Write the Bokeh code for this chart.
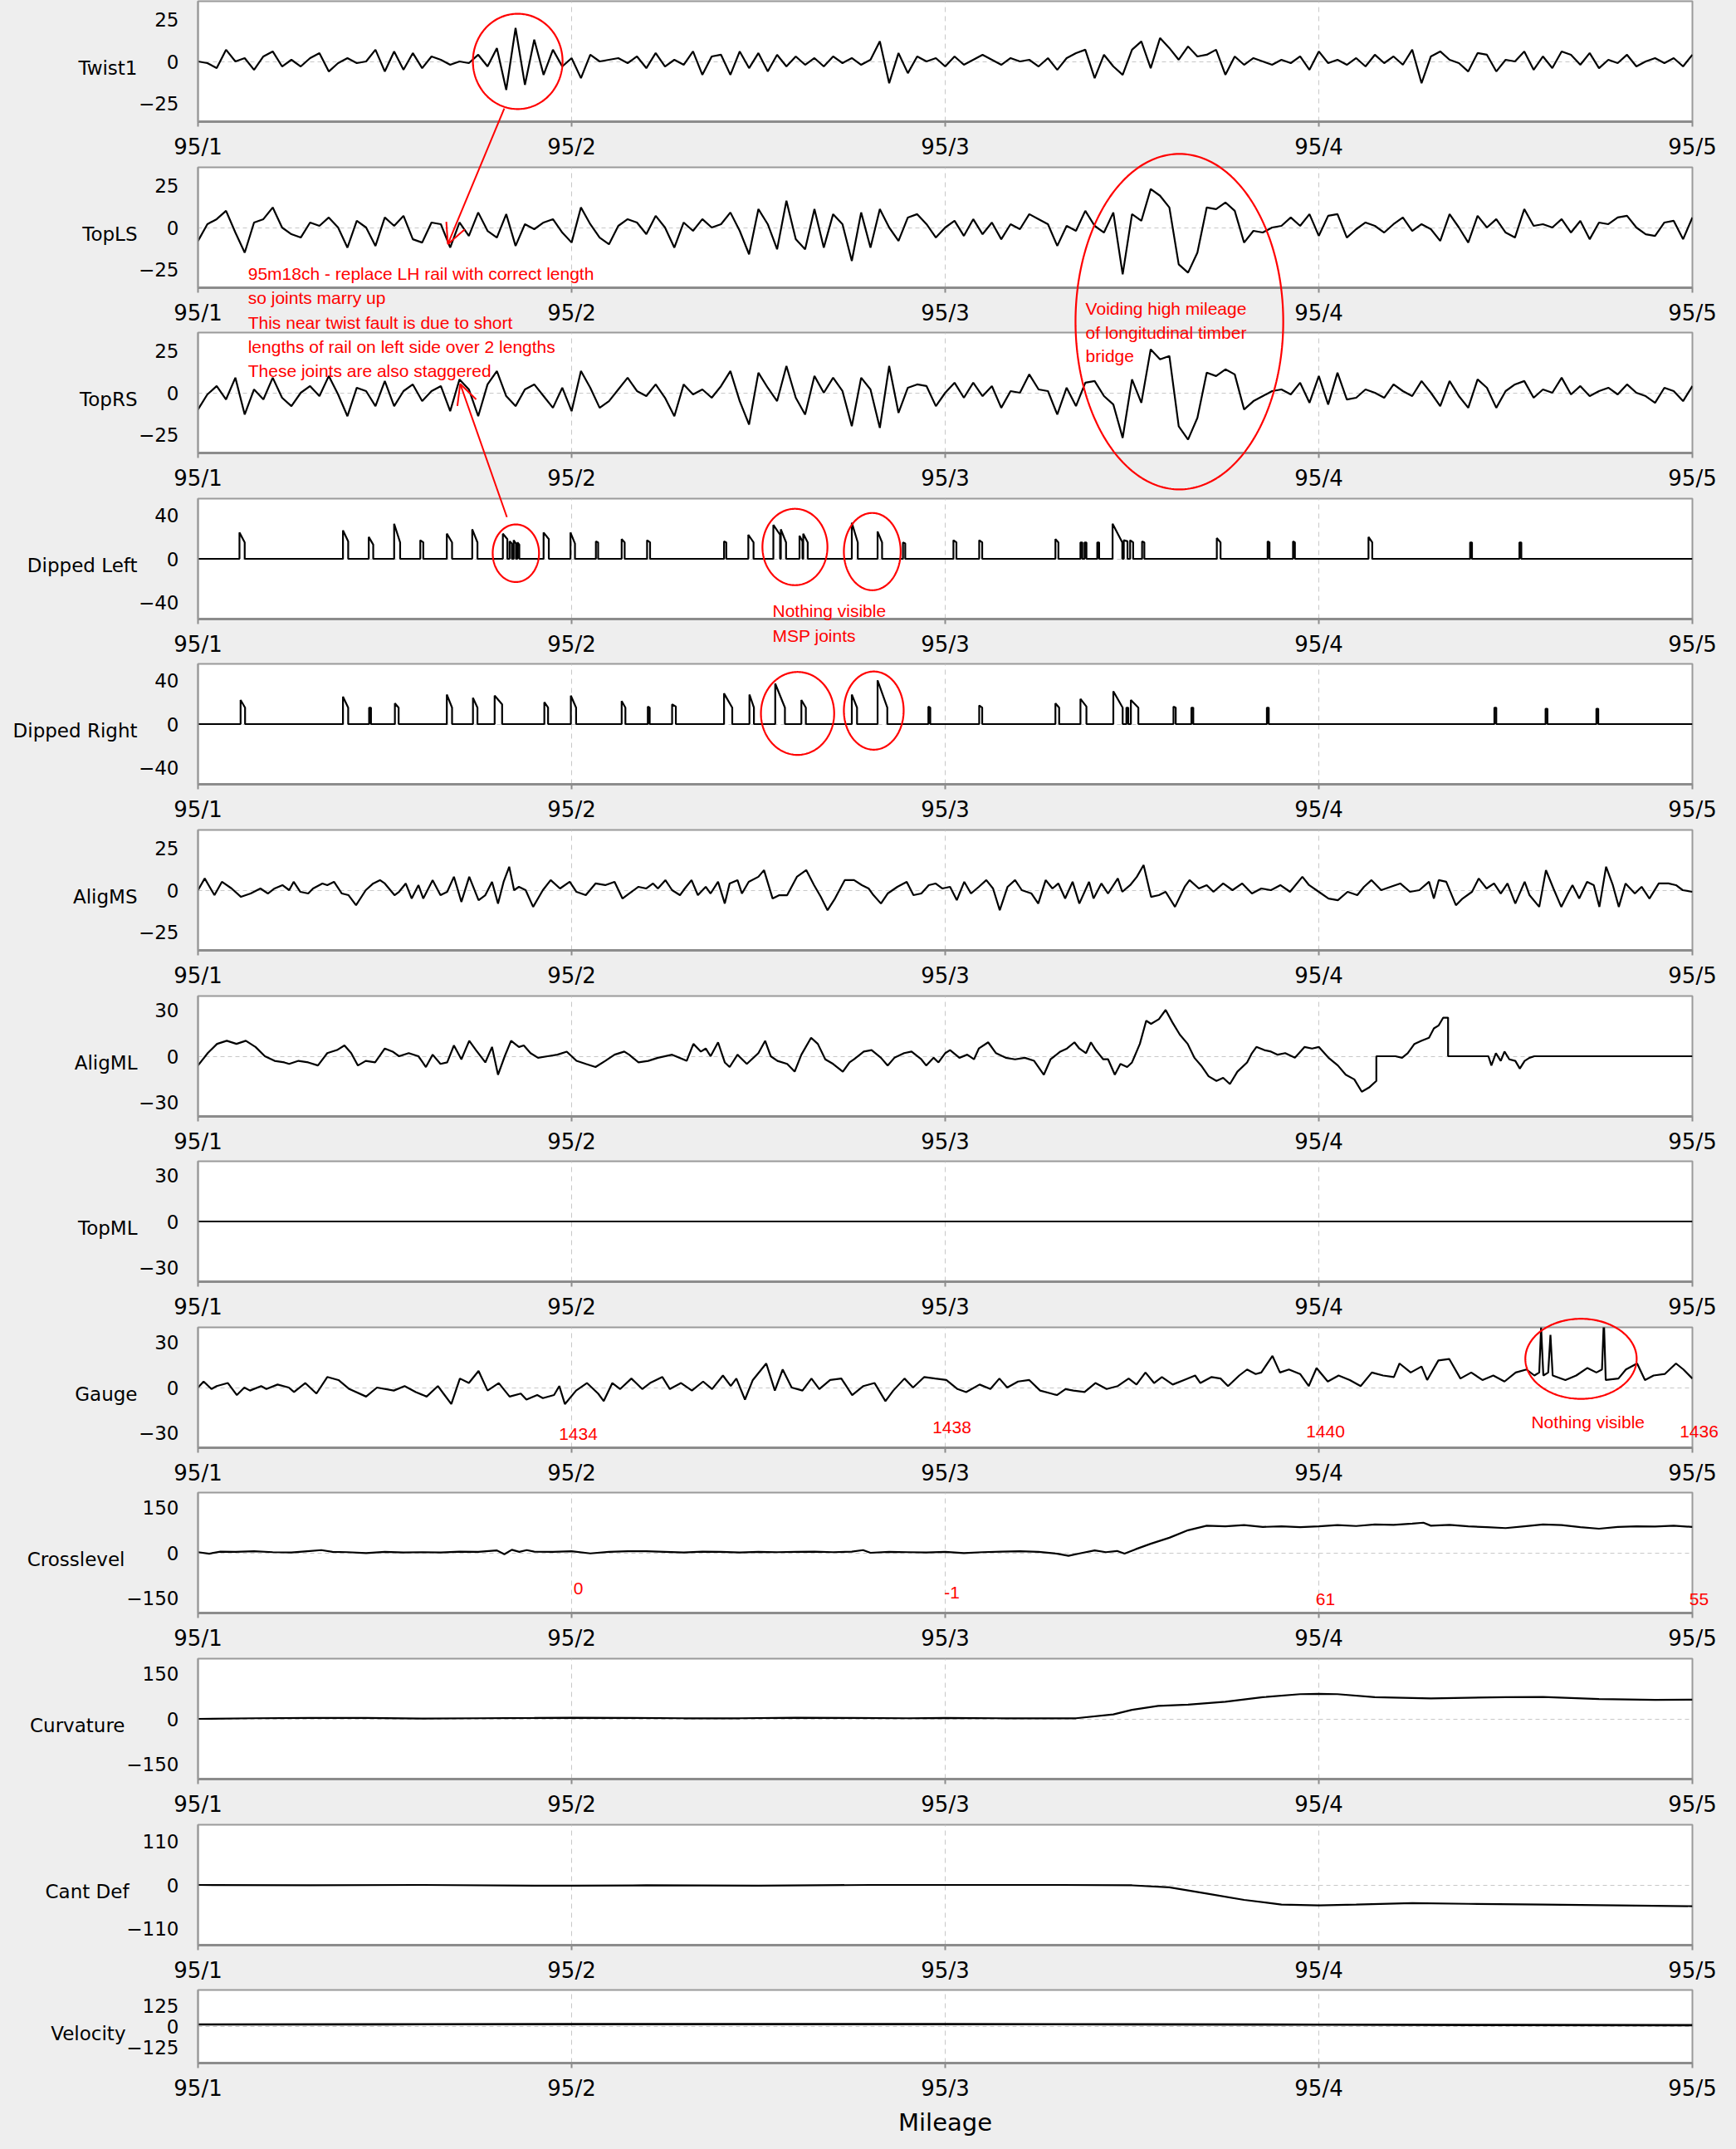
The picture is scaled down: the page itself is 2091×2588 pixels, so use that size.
import numpy as np
from bokeh.plotting import figure
from bokeh.layouts import column
from bokeh.models import Range1d, FixedTicker, Label, PolyAnnotation, Arrow, OpenHead
from bokeh.embed import file_html
from bokeh.resources import INLINE

# ------------------------------------------------------------------ data
mileage_ticks = [1, 2, 3, 4, 5]
mileage_labels = ["95/1", "95/2", "95/3", "95/4", "95/5"]

# evenly sampled traces: first sample at 95/1, one sample every 0.025 chain
grid_start, grid_step = 1.0, 0.025

twist1 = [0, -1, -4, 7, 0, 2, -5, 3, 6, -3, 1, -3, 2, 5, -6, -1, 2, -1, 0, 7,
          -6, 6, -5, 5, -4, 3, 1, -2, 0, -1, 4, -3, 8, -17, 20, -14, 13, -8, 7, -3,
          2, -10, 4, 0, 1, 2, -1, 3, -4, 5, -3, 1, -2, 6, -8, 3, 4, -8, 6, -4,
          5, -6, 4, -3, 3, -2, 2, -3, 3, -1, 2, -2, 1, 12, -13, 5, -7, 3, 0, 2,
          -3, 3, -2, 1, 4, 1, -2, 2, 0, 1, -3, 2, -5, 2, 5, 7, -10, 4, -3, -8,
          7, 12, -4, 14, 8, 1, 9, 3, 4, 7, -8, 3, -2, 2, 0, -2, 1, -1, 3, -5,
          6, -1, 1, -2, 2, -3, 4, -1, 3, -2, 7, -13, 3, 6, 1, -1, -6, 5, 4, -6,
          1, 0, 6, -5, 3, -4, 6, 4, -2, 5, -4, 1, -1, 4, -3, 0, 2, -1, 2, -3, 4]

top_ls = [-8, 2, 5, 10, -3, -15, 3, 5, 12, 0, -4, -6, 3, 1, 6, 0, -12, 4, 0, -11,
          6, 1, 7, -7, -9, 3, 2, -12, 3, -5, 9, -2, -6, 8, -11, 2, -1, 3, 5, -3,
          -9, 12, 2, -6, -10, 1, 5, 3, -4, 7, 0, -12, 3, -2, 5, 0, 2, 9, -2, -16,
          11, 2, -13, 16, -7, -13, 11, -12, 8, 2, -20, 9, -12, 11, 0, -8, 6, 8, 2, -6,
          0, 4, -5, 5, -4, 3, -7, 2, -1, 8, 5, 2, -11, 1, -2, 10, 1, -3, 9, -28,
          8, 4, 23, 19, 12, -22, -27, -15, 12, 11, 15, 10, -9, -2, -3, 0, 1, 6, 1, 8,
          -5, 7, 8, -6, -1, 3, 1, -3, 2, 6, -2, 2, -1, -8, 8, 0, -9, 7, 0, 5,
          -3, -6, 11, 1, 2, 0, 5, -3, 4, -7, 3, 2, 6, 7, 0, -4, -5, 3, 4, -7, 6]

top_rs = [-10, -1, 4, -4, 9, -13, 2, -4, 9, -3, -8, 0, 4, -2, 10, -1, -14, 3, 1, -8,
          7, -8, 1, 5, -5, 1, 4, -11, 8, 2, -14, 5, 13, -2, -8, 2, 5, -2, -9, 3,
          -11, 13, 3, -9, -5, 2, 9, 1, -2, 5, -3, -14, 5, -1, 2, -3, 4, 13, -5, -19,
          12, 3, -5, 16, -3, -13, 10, 0, 9, 1, -20, 9, 2, -21, 16, -12, 3, 5, 4, -8,
          0, 6, -3, 6, -2, 4, -9, 1, 0, 11, 2, 1, -13, 3, -8, 6, 7, -2, -7, -27,
          8, -6, 26, 20, 22, -20, -28, -15, 12, 10, 14, 11, -10, -5, -2, 1, 2, -1, 6, -6,
          10, -7, 12, -4, -3, 2, 0, -3, 5, 1, -2, 7, 0, -8, 7, -2, -9, 8, 3, -9,
          1, 5, 7, -3, 2, 0, 9, -1, 4, -2, 1, 3, -1, 5, 0, -2, -6, 3, 1, -5, 4]

# dipped joints: (mileage, peak, value before drop, pulse length in chains)
dipped_left_pulses = [
    (1.111, 24, 15, 0.014), (1.388, 26, 16, 0.014), (1.457, 20, 13, 0.012),
    (1.525, 32, 15, 0.016), (1.595, 17, 15, 0.008), (1.666, 23, 15, 0.014),
    (1.734, 27, 15, 0.014), (1.816, 23, 18, 0.012), (1.834, 16, 14, 0.006),
    (1.845, 17, 14, 0.006), (1.855, 15, 13, 0.005), (1.925, 24, 18, 0.014),
    (1.997, 24, 14, 0.012), (2.065, 16, 15, 0.006), (2.134, 18, 15, 0.008),
    (2.202, 17, 15, 0.008), (2.408, 16, 15, 0.006), (2.473, 22, 15, 0.014),
    (2.540, 31, 22, 0.018), (2.560, 27, 15, 0.014), (2.610, 21, 16, 0.008),
    (2.620, 23, 15, 0.012), (2.750, 33, 15, 0.016), (2.819, 25, 15, 0.012),
    (2.887, 15, 14, 0.006), (3.022, 17, 15, 0.008), (3.091, 17, 15, 0.008),
    (3.295, 18, 15, 0.008), (3.362, 15, 15, 0.005), (3.373, 15, 15, 0.005),
    (3.407, 15, 15, 0.005), (3.448, 32, 15, 0.026), (3.478, 17, 16, 0.010),
    (3.495, 17, 15, 0.008), (3.527, 16, 15, 0.006), (3.727, 19, 15, 0.010),
    (3.863, 16, 15, 0.005), (3.931, 16, 15, 0.005), (4.133, 20, 15, 0.010),
    (4.405, 15, 15, 0.005), (4.537, 15, 15, 0.005),
]
dipped_right_pulses = [
    (1.114, 22, 15, 0.012), (1.388, 25, 15, 0.014), (1.458, 15, 15, 0.005),
    (1.527, 19, 15, 0.010), (1.666, 27, 15, 0.014), (1.736, 24, 15, 0.012),
    (1.794, 26, 18, 0.020), (1.927, 20, 15, 0.010), (1.998, 26, 15, 0.014),
    (2.134, 21, 15, 0.010), (2.204, 16, 15, 0.005), (2.269, 18, 16, 0.010),
    (2.408, 28, 15, 0.022), (2.476, 27, 15, 0.012), (2.545, 37, 15, 0.026),
    (2.615, 22, 15, 0.012), (2.750, 27, 15, 0.014), (2.819, 40, 15, 0.026),
    (2.955, 16, 15, 0.005), (3.091, 17, 15, 0.008), (3.295, 19, 15, 0.010),
    (3.362, 23, 16, 0.016), (3.450, 30, 15, 0.025), (3.485, 15, 15, 0.005),
    (3.497, 22, 15, 0.020), (3.611, 16, 15, 0.006), (3.659, 15, 15, 0.005),
    (3.861, 15, 15, 0.005), (4.470, 15, 15, 0.005), (4.607, 14, 14, 0.005),
    (4.743, 14, 14, 0.005),
]

# irregularly read traces: (mileage, value)
alig_ms_pts = [
    (1.000, 0), (1.018, 7), (1.044, -3), (1.064, 5), (1.090, 1), (1.115, -4), (1.141, -2),
    (1.167, 1), (1.187, -2), (1.205, 1), (1.226, 3), (1.244, 0), (1.256, 5), (1.274, -1),
    (1.295, -2), (1.308, 1), (1.333, 4), (1.346, 3), (1.364, 5), (1.385, -2), (1.403, -3),
    (1.423, -9), (1.449, 0), (1.469, 4), (1.487, 6), (1.500, 4), (1.526, -3), (1.538, -1),
    (1.556, 4), (1.572, -5), (1.590, 3), (1.603, -5), (1.628, 6), (1.649, -3), (1.667, -1),
    (1.685, 8), (1.705, -7), (1.726, 8), (1.751, -6), (1.769, -3), (1.787, 5), (1.803, -8),
    (1.818, 5), (1.833, 14), (1.846, 0), (1.859, 2), (1.877, 0), (1.897, -10), (1.923, 0),
    (1.944, 6), (1.969, 1), (1.995, 5), (2.013, -1), (2.038, -3), (2.064, 4), (2.090, 3),
    (2.115, 5), (2.136, -5), (2.154, -2), (2.179, 2), (2.200, 1), (2.218, 4), (2.231, 1),
    (2.251, 6), (2.269, 0), (2.290, -3), (2.303, 1), (2.321, 6), (2.338, -3), (2.359, 2),
    (2.372, -2), (2.392, 5), (2.410, -8), (2.423, 4), (2.444, 6), (2.456, -2), (2.474, 5),
    (2.500, 8), (2.515, 12), (2.538, -5), (2.556, -3), (2.577, -3), (2.603, 8), (2.628, 12),
    (2.649, 3), (2.667, -4), (2.685, -12), (2.705, -5), (2.731, 6), (2.756, 6), (2.777, 3),
    (2.795, 1), (2.808, -3), (2.828, -8), (2.846, -2), (2.872, 2), (2.897, 5), (2.915, -3),
    (2.936, -2), (2.956, 3), (2.974, 4), (2.992, 1), (3.013, 2), (3.031, -6), (3.051, 5),
    (3.069, -2), (3.090, 2), (3.110, 6), (3.128, 1), (3.146, -12), (3.167, 2), (3.187, 6),
    (3.205, 0), (3.231, -2), (3.249, -8), (3.269, 6), (3.287, 1), (3.303, 4), (3.321, -5),
    (3.341, 5), (3.359, -8), (3.385, 5), (3.397, -5), (3.418, 4), (3.436, -2), (3.462, 7),
    (3.474, -1), (3.495, 3), (3.513, 8), (3.531, 15), (3.551, -4), (3.572, -3), (3.590, -1),
    (3.615, -10), (3.641, 2), (3.654, 6), (3.679, 1), (3.700, 3), (3.718, -1), (3.744, 4),
    (3.769, 0), (3.795, 4), (3.821, -2), (3.846, 1), (3.872, 0), (3.897, 3), (3.923, -1),
    (3.956, 8), (3.974, 3), (4.000, -1), (4.026, -5), (4.051, -6), (4.077, -1), (4.103, -3),
    (4.121, 2), (4.141, 6), (4.167, 0), (4.192, 2), (4.218, 4), (4.244, -1), (4.269, 0),
    (4.295, 5), (4.308, -5), (4.321, 6), (4.341, 5), (4.367, -9), (4.385, -5), (4.410, -1),
    (4.428, 7), (4.449, 1), (4.469, 4), (4.487, -2), (4.505, 4), (4.526, -8), (4.551, 5),
    (4.564, -3), (4.590, -10), (4.608, 12), (4.628, 1), (4.649, -10), (4.667, -2), (4.679, 3),
    (4.697, -5), (4.718, 5), (4.736, 3), (4.751, -10), (4.769, 14), (4.787, 3), (4.803, -10),
    (4.821, 4), (4.846, -2), (4.864, 2), (4.885, -5), (4.910, 4), (4.936, 4), (4.956, 3),
    (4.974, 0), (5.000, -1),
]

alig_ml_pts = [
    (1.000, -6), (1.026, 2), (1.051, 8), (1.077, 10), (1.103, 8), (1.128, 10), (1.154, 6),
    (1.179, 0), (1.205, -3), (1.231, -4), (1.244, -5), (1.269, -3), (1.295, -4), (1.321, -6),
    (1.346, 2), (1.372, 4), (1.392, 7), (1.410, 2), (1.428, -6), (1.449, -3), (1.474, -4),
    (1.500, 5), (1.521, 3), (1.538, 0), (1.564, 2), (1.590, 0), (1.610, -7), (1.628, 1),
    (1.649, -5), (1.667, -4), (1.685, 7), (1.705, -2), (1.726, 10), (1.744, 4), (1.769, -4),
    (1.787, 6), (1.803, -12), (1.821, 0), (1.838, 10), (1.859, 6), (1.872, 7), (1.890, 2),
    (1.910, -1), (1.936, 0), (1.962, 1), (1.987, 3), (2.013, -3), (2.038, -5), (2.064, -7),
    (2.090, -3), (2.115, 1), (2.141, 3), (2.154, 1), (2.179, -4), (2.205, -3), (2.231, -1),
    (2.269, 1), (2.308, -3), (2.326, 8), (2.346, 3), (2.359, 5), (2.372, 0), (2.392, 9),
    (2.410, -4), (2.423, -7), (2.444, 1), (2.469, -5), (2.500, 2), (2.518, 10), (2.533, 0),
    (2.551, -3), (2.577, -5), (2.597, -10), (2.615, 1), (2.641, 12), (2.659, 8), (2.679, -2),
    (2.700, -5), (2.726, -10), (2.744, -4), (2.756, -2), (2.782, 3), (2.803, 4), (2.828, -1),
    (2.846, -6), (2.864, -1), (2.890, 2), (2.910, 3), (2.936, -2), (2.949, -6), (2.969, -1),
    (2.982, -4), (3.000, 2), (3.013, 4), (3.038, -1), (3.059, 1), (3.077, -2), (3.090, 5),
    (3.115, 9), (3.136, 2), (3.162, -1), (3.187, -2), (3.213, -1), (3.238, -3), (3.264, -12),
    (3.282, -2), (3.308, 3), (3.326, 5), (3.346, 9), (3.359, 5), (3.377, 2), (3.390, 9),
    (3.403, 4), (3.423, -2), (3.436, -2), (3.454, -12), (3.469, -5), (3.487, -7), (3.500, -4),
    (3.521, 8), (3.538, 23), (3.551, 21), (3.572, 24), (3.590, 30), (3.608, 22), (3.628, 14),
    (3.649, 8), (3.667, -1), (3.685, -6), (3.705, -13), (3.726, -16), (3.744, -14), (3.762, -18),
    (3.782, -10), (3.808, -4), (3.821, 2), (3.833, 6), (3.854, 4), (3.872, 3), (3.890, 1),
    (3.910, 2), (3.936, -1), (3.962, 6), (3.982, 5), (4.000, 6), (4.026, -1), (4.051, -6),
    (4.072, -12), (4.095, -15), (4.115, -23), (4.136, -20), (4.154, -16), (4.154, 0),
    (4.205, 0), (4.223, -1), (4.238, 2), (4.256, 8), (4.274, 10), (4.295, 12), (4.308, 18),
    (4.321, 20), (4.333, 25), (4.346, 25), (4.346, 0), (4.454, 0), (4.462, -6), (4.474, 2),
    (4.487, -3), (4.497, 3), (4.510, -2), (4.526, -3), (4.538, -8), (4.551, -3), (4.564, -1),
    (4.577, 0), (5.000, 0),
]

top_ml_pts = [(1.0, 0), (5.0, 0)]

gauge_pts = [
    (1.000, 0), (1.015, 4), (1.036, -1), (1.050, 1), (1.080, 3), (1.104, -5), (1.124, 0),
    (1.139, -2), (1.169, 1), (1.183, -1), (1.213, 2), (1.243, 0), (1.257, -3), (1.287, 3),
    (1.317, -4), (1.346, 7), (1.376, 5), (1.405, -1), (1.450, -6), (1.479, 0), (1.524, -2),
    (1.553, 1), (1.583, -3), (1.612, -6), (1.642, 1), (1.657, -4), (1.678, -11), (1.701, 6),
    (1.725, 3), (1.751, 11), (1.775, -2), (1.805, 3), (1.834, -6), (1.864, -4), (1.879, -8),
    (1.908, -5), (1.923, -7), (1.953, -5), (1.967, 1), (1.982, -11), (2.012, -2), (2.041, 3),
    (2.071, -4), (2.086, -9), (2.109, 3), (2.130, -1), (2.160, 6), (2.189, -1), (2.210, 3),
    (2.243, 7), (2.263, -1), (2.293, 3), (2.322, -2), (2.352, 4), (2.376, -1), (2.405, 8),
    (2.426, 1), (2.441, 6), (2.464, -8), (2.485, 5), (2.521, 16), (2.544, -2), (2.565, 12),
    (2.589, 0), (2.618, -2), (2.642, 6), (2.663, -1), (2.692, 5), (2.722, 6), (2.751, -5),
    (2.781, 1), (2.811, 3), (2.840, -9), (2.861, -2), (2.891, 6), (2.914, 0), (2.944, 7),
    (2.973, 6), (3.003, 5), (3.033, -1), (3.056, -3), (3.092, 2), (3.121, -1), (3.145, 6),
    (3.166, 0), (3.195, 4), (3.225, 5), (3.254, -2), (3.284, -4), (3.299, -5), (3.322, -1),
    (3.343, -2), (3.373, -3), (3.402, 3), (3.432, -1), (3.462, 1), (3.491, 6), (3.512, 2),
    (3.536, 10), (3.559, 3), (3.580, 7), (3.609, 2), (3.639, 5), (3.669, 8), (3.683, 3),
    (3.713, 7), (3.737, 6), (3.757, 1), (3.787, 8), (3.808, 12), (3.831, 9), (3.846, 10),
    (3.876, 21), (3.896, 10), (3.920, 12), (3.950, 9), (3.973, 1), (3.994, 13), (4.024, 4),
    (4.053, 8), (4.083, 5), (4.112, 1), (4.142, 10), (4.172, 8), (4.201, 7), (4.216, 16),
    (4.246, 10), (4.275, 14), (4.290, 5), (4.320, 18), (4.349, 19), (4.379, 6), (4.408, 10),
    (4.438, 5), (4.467, 8), (4.497, 4), (4.527, 10), (4.556, 12), (4.577, 8), (4.590, 10),
    (4.595, 40), (4.601, 8), (4.614, 10), (4.620, 35), (4.626, 8), (4.660, 5), (4.689, 8),
    (4.719, 13), (4.743, 10), (4.758, 12), (4.763, 45), (4.768, 5), (4.802, 6), (4.822, 12),
    (4.852, 16), (4.873, 5), (4.896, 8), (4.926, 9), (4.956, 16), (4.976, 12), (5.000, 6),
]

crosslevel_pts = [
    (1.00, 2), (1.03, -3), (1.06, 4), (1.10, 3), (1.15, 5), (1.20, 2), (1.25, 1), (1.30, 6),
    (1.33, 9), (1.36, 3), (1.40, 2), (1.45, -1), (1.50, 3), (1.55, 1), (1.60, 2), (1.65, 1),
    (1.70, 4), (1.75, 3), (1.80, 8), (1.82, -5), (1.84, 10), (1.86, 3), (1.88, 9), (1.90, 4),
    (1.95, 3), (2.00, 5), (2.05, -2), (2.10, 3), (2.15, 5), (2.20, 5), (2.25, 3), (2.30, 1),
    (2.35, 4), (2.40, 3), (2.45, 1), (2.50, 3), (2.55, 2), (2.60, 3), (2.65, 4), (2.70, 2),
    (2.75, 4), (2.78, 9), (2.80, 0), (2.85, 3), (2.90, 2), (2.95, 1), (3.00, 3), (3.05, -1),
    (3.10, 2), (3.15, 4), (3.20, 5), (3.25, 3), (3.30, -3), (3.33, -10), (3.36, -2), (3.40, 8),
    (3.43, 2), (3.46, 6), (3.48, -3), (3.51, 12), (3.55, 30), (3.60, 50), (3.65, 75),
    (3.70, 90), (3.75, 88), (3.80, 92), (3.85, 86), (3.90, 88), (3.95, 85), (4.00, 88),
    (4.05, 92), (4.10, 89), (4.15, 94), (4.20, 93), (4.25, 97), (4.28, 100), (4.30, 90),
    (4.35, 93), (4.40, 88), (4.45, 85), (4.50, 82), (4.55, 88), (4.60, 94), (4.65, 92),
    (4.70, 85), (4.75, 80), (4.80, 86), (4.85, 88), (4.90, 87), (4.95, 90), (5.00, 86),
]

curvature_pts = [
    (1.00, 0), (1.15, 2), (1.30, 3), (1.45, 3), (1.60, 1), (1.75, 2), (1.90, 3), (2.00, 4),
    (2.15, 3), (2.30, 2), (2.45, 2), (2.60, 4), (2.75, 3), (2.90, 2), (3.00, 3), (3.15, 2),
    (3.35, 2), (3.45, 15), (3.50, 30), (3.57, 43), (3.65, 47), (3.75, 57), (3.85, 72),
    (3.95, 82), (4.00, 83), (4.05, 82), (4.15, 72), (4.30, 68), (4.50, 72), (4.60, 73),
    (4.75, 66), (4.90, 63), (5.00, 64),
]

cant_def_pts = [
    (1.0, 0), (1.3, -1), (1.6, 0), (1.9, -2), (2.0, -2), (2.2, -1), (2.5, -2), (2.8, 0),
    (3.0, 0), (3.3, 0), (3.5, -1), (3.6, -6), (3.7, -22), (3.8, -38), (3.9, -50), (4.0, -52),
    (4.1, -50), (4.25, -46), (4.4, -48), (4.6, -50), (4.8, -52), (5.0, -54),
]

velocity_pts = [(1.0, 12), (1.5, 13), (2.0, 14), (2.5, 14), (3.0, 14), (3.5, 13),
                (4.0, 11), (4.5, 9), (5.0, 8)]

panel_names = ["Twist1", "TopLS", "TopRS", "Dipped Left", "Dipped Right", "AligMS",
               "AligML", "TopML", "Gauge", "Crosslevel", "Curvature", "Cant Def", "Velocity"]
panel_ticks = [25, 25, 25, 40, 40, 25, 30, 30, 30, 150, 150, 110, 125]
panel_limits = [36, 36, 36, 55, 55, 36, 39, 39, 40, 200, 200, 153, 216]

# red annotations, anchored in (panel, mileage, value) of their host panel
ann_ellipses = [  # host, mileage, value, half-width (chains), half-height (units)
    (0, 1.838, 4.0, 0.120, 28.5),
    (3, 1.833, 11.2, 0.062, 26.3),
    (3, 2.580, 16.9, 0.087, 34.9),
    (3, 2.787, 12.7, 0.076, 35.3),
    (4, 2.587, 15.8, 0.098, 37.9),
    (4, 2.791, 18.4, 0.080, 35.7),
    (2, 3.609, 46.5, 0.278, 100.3),
    (8, 4.684, 23.5, 0.149, 26.6),
]
ann_arrows = [  # (tail), (tip)
    ((0, 1.802, -24.1), (1, 1.651, -5.9)),
    ((3, 1.809, 44.2), (2, 1.684, 9.3)),
]
ann_texts = [  # host, mileage, value, text, align
    (1, 1.116, -23.6, "95m18ch - replace LH rail with correct length", "left"),
    (1, 1.116, -38.2, "so joints marry up", "left"),
    (1, 1.116, -52.8, "This near twist fault is due to short", "left"),
    (1, 1.116, -67.3, "lengths of rail on left side over 2 lengths", "left"),
    (1, 1.116, -81.9, "These joints are also staggered", "left"),
    (2, 3.358, 54.5, "Voiding high mileage", "left"),
    (2, 3.358, 40.1, "of longitudinal timber", "left"),
    (2, 3.358, 25.9, "bridge", "left"),
    (3, 2.520, -41.5, "Nothing visible", "left"),
    (3, 2.520, -64.3, "MSP joints", "left"),
    (8, 2.0, -26.3, "1434", "center"),
    (8, 3.0, -21.9, "1438", "center"),
    (8, 4.0, -24.7, "1440", "center"),
    (8, 5.0, -24.7, "1436", "center"),
    (8, 4.551, -18.6, "Nothing visible", "left"),
    (9, 2.0, -96.8, "0", "center"),
    (9, 3.0, -110.6, "-1", "center"),
    (9, 4.0, -132.7, "61", "center"),
    (9, 5.0, -132.7, "55", "center"),
]

# ------------------------------------------------------------------ layout
FIG_W = 2075
PAGE_MARGIN = 8
BORDER_L, BORDER_R = 238, 37
FRAME_W = FIG_W - BORDER_L - BORDER_R
PX_PER_CHAIN = FRAME_W / 4.0
FRAME_LEFT_PAGE = PAGE_MARGIN + BORDER_L
NAME_RIGHT_PAGE = [165, 165, 165, 165, 165, 165, 165, 165, 165, 150, 150, 155, 151]

n_panels = len(panel_names)
frame_tops = [round(9 + 199.6 * k) for k in range(n_panels)]
frame_hs = [145] * (n_panels - 1) + [88]
canvas_tops = [t - 1 for t in frame_tops]
TOTAL_H = 2580
heights = [canvas_tops[k + 1] - canvas_tops[k] for k in range(n_panels - 1)] + [TOTAL_H + PAGE_MARGIN - canvas_tops[-1]]


def to_page_y(k, v):
    return frame_tops[k] + (panel_limits[k] - v) * frame_hs[k] / (2.0 * panel_limits[k])


def pulse_trace(pulses):
    xs, ys = [1.0], [0.0]
    for pos, peak, tail, w in pulses:
        xs += [pos, pos, pos + w, pos + w]
        ys += [0, peak, tail, 0]
    xs.append(5.0)
    ys.append(0.0)
    return xs, ys


grid_x = [grid_start + grid_step * i for i in range(len(twist1))]
series = [
    (grid_x, twist1),
    (grid_x, top_ls),
    (grid_x, top_rs),
    pulse_trace(dipped_left_pulses),
    pulse_trace(dipped_right_pulses),
    tuple(map(list, zip(*alig_ms_pts))),
    tuple(map(list, zip(*alig_ml_pts))),
    tuple(map(list, zip(*top_ml_pts))),
    tuple(map(list, zip(*gauge_pts))),
    tuple(map(list, zip(*crosslevel_pts))),
    tuple(map(list, zip(*curvature_pts))),
    tuple(map(list, zip(*cant_def_pts))),
    tuple(map(list, zip(*velocity_pts))),
]

FONT = "DejaVu Sans"
RED_FONT = "Liberation Sans"
figs = []
for k in range(n_panels):
    R = panel_limits[k]
    t = panel_ticks[k]
    h = heights[k]
    p = figure(width=FIG_W, height=h, x_range=Range1d(1, 5), y_range=Range1d(-R, R),
               output_backend="svg", toolbar_location=None,
               min_border_left=BORDER_L, min_border_right=BORDER_R,
               min_border_top=1, min_border_bottom=h - 1 - frame_hs[k],
               background_fill_color="white", border_fill_color="#eeeeee",
               outline_line_color="#9a9a9a", outline_line_width=2)
    p.xaxis.ticker = FixedTicker(ticks=mileage_ticks)
    p.xaxis.major_label_overrides = dict(zip(mileage_ticks, mileage_labels))
    p.xaxis.minor_tick_line_color = None
    p.xaxis.major_tick_in = 0
    p.xaxis.major_tick_out = 6
    p.xaxis.major_tick_line_color = "#8c8c8c"
    p.xaxis.major_tick_line_width = 2
    p.xaxis.axis_line_color = "#8c8c8c"
    p.xaxis.axis_line_width = 3
    p.xaxis.major_label_text_font = FONT
    p.xaxis.major_label_text_font_size = "26px"
    p.xaxis.major_label_text_color = "black"
    p.xaxis.major_label_standoff = 9
    p.yaxis.ticker = FixedTicker(ticks=[-t, 0, t])
    p.yaxis.major_label_overrides = {-t: "\u2212" + str(t), 0: "0", t: str(t)}
    p.yaxis.minor_tick_line_color = None
    p.yaxis.major_tick_line_color = None
    p.yaxis.axis_line_color = "#9a9a9a"
    p.yaxis.axis_line_width = 2
    p.yaxis.major_label_text_font = FONT
    p.yaxis.major_label_text_font_size = "23px"
    p.yaxis.major_label_text_color = "black"
    p.yaxis.major_label_standoff = 17
    p.xgrid.ticker = FixedTicker(ticks=[2, 3, 4])
    p.xgrid.grid_line_color = "#c8c8c8"
    p.xgrid.grid_line_dash = "6 5"
    p.ygrid.ticker = FixedTicker(ticks=[0])
    p.ygrid.grid_line_color = "#c8c8c8"
    p.ygrid.grid_line_dash = "5 4"
    if k == n_panels - 1:
        p.xaxis.axis_label = "Mileage"
        p.xaxis.axis_label_text_font = FONT
        p.xaxis.axis_label_text_font_size = "29px"
        p.xaxis.axis_label_text_font_style = "normal"
        p.xaxis.axis_label_text_color = "black"
        p.xaxis.axis_label_standoff = 6

    xs, ys = series[k]
    p.line(xs, ys, line_color="black", line_width=2.2 if k < n_panels - 1 else 2.6)
    figs.append(p)

# ---- transparent overlay for names and notes that sit between the panels
# x: mileage (same scale as the panels); y: page pixel row (downwards)
ov_x0 = 1 - (FRAME_LEFT_PAGE - PAGE_MARGIN) / PX_PER_CHAIN
ov_x1 = 5 + BORDER_R / PX_PER_CHAIN
ov = figure(width=FIG_W, height=TOTAL_H,
            x_range=Range1d(ov_x0, ov_x1),
            y_range=Range1d(PAGE_MARGIN + TOTAL_H, PAGE_MARGIN),
            x_axis_location=None, y_axis_location=None,
            min_border=0, min_border_left=0, min_border_right=0,
            min_border_top=0, min_border_bottom=0,
            output_backend="svg", toolbar_location=None,
            background_fill_alpha=0, border_fill_alpha=0, outline_line_color=None,
            styles={"position": "absolute", "top": "%dpx" % PAGE_MARGIN,
                    "left": "%dpx" % PAGE_MARGIN, "pointer-events": "none",
                    "z-index": "10"})
ov.xgrid.visible = False
ov.ygrid.visible = False

for k in range(n_panels):
    ov.add_layout(Label(x=1 + (NAME_RIGHT_PAGE[k] - FRAME_LEFT_PAGE) / PX_PER_CHAIN,
                        y=to_page_y(k, 0), text=panel_names[k],
                        text_font=FONT, text_font_size="23px", text_color="black",
                        text_align="right", text_baseline="middle"))

theta = np.linspace(0, 2 * np.pi, 241)
for host, cx, cv, rx, rv in ann_ellipses:
    cy = to_page_y(host, cv)
    ry = rv * frame_hs[host] / (2.0 * panel_limits[host])
    ov.add_layout(PolyAnnotation(xs=list(cx + rx * np.cos(theta)),
                                 ys=list(cy + ry * np.sin(theta)),
                                 xs_units="data", ys_units="data",
                                 fill_alpha=0, line_color="red", line_alpha=1.0,
                                 line_width=2.2, level="overlay"))

for (h0, x0, v0), (h1, x1, v1) in ann_arrows:
    ov.add_layout(Arrow(x_start=x0, y_start=to_page_y(h0, v0),
                        x_end=x1, y_end=to_page_y(h1, v1),
                        line_color="red", line_width=2,
                        end=OpenHead(size=24, line_color="red", line_width=2),
                        level="overlay"))

for host, x, v, txt, align in ann_texts:
    ov.add_layout(Label(x=x, y=to_page_y(host, v), text=txt,
                        text_font=RED_FONT, text_font_size="21px",
                        text_color="red", text_align=align, text_baseline="middle",
                        level="overlay"))

layout = column(*figs, spacing=0)
html = file_html([layout, ov], INLINE, "Track geometry")
html = html.replace("</head>", "<style>html, body { background-color: #eeeeee; }</style></head>", 1)
open("out.html", "w").write(html)
